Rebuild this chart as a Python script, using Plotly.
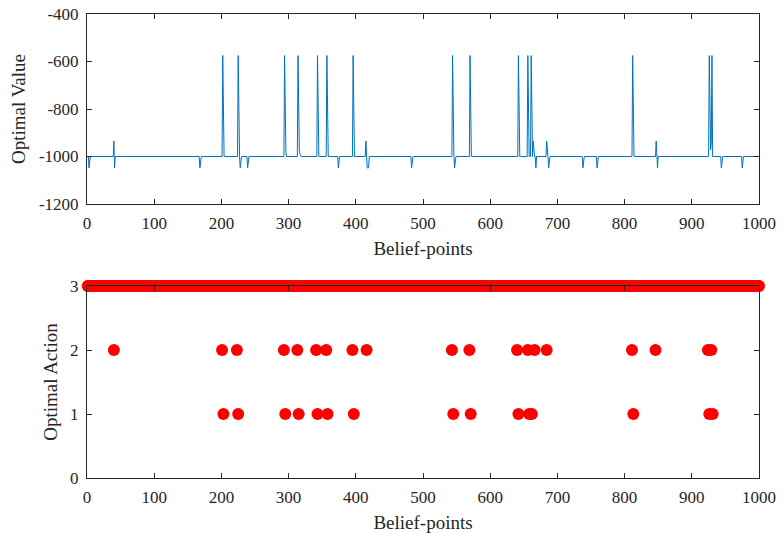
import plotly.graph_objects as go

# ---------------- data ----------------
n_points = 1000
value_baseline = -1000
spike_x = [202, 225, 294, 314, 343, 357, 396, 544, 570, 642, 656, 661, 812, 926, 930]
spike_v = [-575] * 15
bump_x = [40, 415, 664, 684, 847]
bump_v = [-935, -935, -935, -935, -935]
dip_x = [3, 41, 168, 228, 239, 374, 417, 418, 419, 483, 547, 668, 687, 738, 759, 849, 944, 975]
dip_v = [-1048] * 18
tail_x = [295, 296, 315, 316, 317, 927, 928, 929]
tail_v = [-950, -985, -960, -975, -990, -940, -972, -940]

action_default = 3
action2_x = [40, 201, 223, 293, 313, 341, 356, 395, 416, 543, 569, 640, 656, 666, 684, 811, 846, 924, 929]
action1_x = [203, 225, 295, 315, 343, 358, 397, 545, 571, 642, 658, 662, 813, 926, 931]

x_ticks = [0, 100, 200, 300, 400, 500, 600, 700, 800, 900, 1000]
x_tick_labels = ["0", "100", "200", "300", "400", "500", "600", "700", "800", "900", "1000"]
v_ticks = [-1200, -1000, -800, -600, -400]
v_tick_labels = ["-1200", "-1000", "-800", "-600", "-400"]
a_ticks = [0, 1, 2, 3]
a_tick_labels = ["0", "1", "2", "3"]

# ---------------- build series ----------------
belief = list(range(1, n_points + 1))
values = [value_baseline] * n_points
for xs, vs in ((spike_x, spike_v), (bump_x, bump_v), (dip_x, dip_v), (tail_x, tail_v)):
    for x, v in zip(xs, vs):
        values[x - 1] = v
actions = [action_default] * n_points
for x in action2_x:
    actions[x - 1] = 2
for x in action1_x:
    actions[x - 1] = 1

# ---------------- figure ----------------
W, H = 782, 533
ml, mr, mt, mb = 87, 23, 14, 55
ph = H - mt - mb
top_dom = [(478 - 204) / ph, 1.0]
bot_dom = [0.0, (478 - 286) / ph]

FONT = "Liberation Serif, Times New Roman, serif"
AX = "#262626"

fig = go.Figure()
fig.add_trace(go.Scatter(x=belief, y=values, mode="lines",
                         line=dict(color="#0072BD", width=1),
                         xaxis="x", yaxis="y", showlegend=False))
fig.add_trace(go.Scatter(x=belief, y=actions, mode="markers",
                         marker=dict(color="#FF0000", size=12, line=dict(width=0)),
                         cliponaxis=False,
                         xaxis="x2", yaxis="y2", showlegend=False))

common = dict(showgrid=False, zeroline=False, showline=True, linecolor=AX, linewidth=1,
              mirror="ticks", ticks="inside", ticklen=5, tickcolor=AX, automargin=False,
              ticklabelstandoff=4,
              tickfont=dict(family=FONT, size=17, color=AX))

fig.update_layout(
    width=W, height=H,
    font=dict(family=FONT, size=17, color=AX),
    margin=dict(l=ml, r=mr, t=mt, b=mb),
    paper_bgcolor="white", plot_bgcolor="white",
    xaxis=dict(domain=[0, 1], range=[0, 1000], anchor="y",
               tickvals=x_ticks, ticktext=x_tick_labels,
               title=dict(text="Belief-points", font=dict(family=FONT, size=19, color=AX), standoff=9),
               **common),
    yaxis=dict(domain=top_dom, range=[-1200, -400], anchor="x",
               tickvals=v_ticks, ticktext=v_tick_labels,
               title=dict(text="Optimal Value", font=dict(family=FONT, size=19, color=AX), standoff=8),
               **common),
    xaxis2=dict(domain=[0, 1], range=[0, 1000], anchor="y2",
                tickvals=x_ticks, ticktext=x_tick_labels,
                title=dict(text="Belief-points", font=dict(family=FONT, size=19, color=AX), standoff=9),
                **common),
    yaxis2=dict(domain=bot_dom, range=[0, 3], anchor="x2",
                tickvals=a_ticks, ticktext=a_tick_labels,
                title=dict(text="Optimal Action", font=dict(family=FONT, size=19, color=AX), standoff=7),
                **common),
)

fig.write_html("out.html")
